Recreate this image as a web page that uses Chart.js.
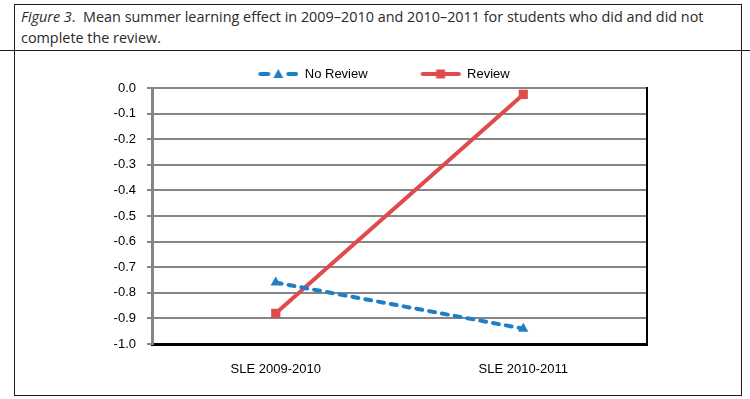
<!DOCTYPE html>
<html>
<head>
<meta charset="utf-8">
<script src="https://cdn.jsdelivr.net/npm/chart.js@4.4.1/dist/chart.umd.min.js"></script>
<style>
  body {
    margin: 0;
    width: 750px;
    height: 399px;
    background: #fff;
    position: relative;
    overflow: hidden;
    font-family: "Open Sans", sans-serif;
  }
  #frame {
    position: absolute;
    left: 14px;
    top: 4px;
    width: 726px;
    height: 390px;
    border: 1px solid #1e1e1e;
  }
  #rule {
    position: absolute;
    left: 0;
    top: 50px;
    width: 750px;
    height: 1px;
    background: #1e1e1e;
  }
  #caption {
    position: absolute;
    left: 21px;
    top: 6px;
    font-size: 14.4px;
    line-height: 21px;
    color: #2a2a2a;
    white-space: nowrap;
  }
  #wrap {
    position: absolute;
    left: 15px;
    top: 51px;
    width: 725px;
    height: 343px;
  }
</style>
</head>
<body>
<div id="frame"></div>
<div id="rule"></div>
<div id="caption">
  <div><i>Figure 3</i>.&nbsp; Mean summer learning effect in 2009–2010 and 2010–2011 for students who did and did not</div>
  <div>complete the review.</div>
</div>
<div id="wrap"><canvas id="chart"></canvas></div>
<script>
const categories = ["SLE 2009-2010", "SLE 2010-2011"];
const seriesNames = ["No Review", "Review"];
const noReviewValues = [-0.76, -0.94];
const reviewValues = [-0.88, -0.025];
const yMin = -1.0;
const yMax = 0.0;
const yStep = 0.1;

const blue = "#1f7fc6";
const red = "#e04a4c";
const tickFont = { family: "Liberation Sans", size: 13 };

// legend samples: line + marker, drawn at the right end of a wider box
const legendIcon = (color, marker) => {
  const c = document.createElement("canvas");
  c.width = 83;
  c.height = 12;
  const ctx = c.getContext("2d");
  ctx.strokeStyle = color;
  ctx.fillStyle = color;
  ctx.lineWidth = 4;
  ctx.lineCap = "round";
  ctx.beginPath();
  if (marker === "triangle") {
    ctx.moveTo(45, 6);
    ctx.lineTo(53, 6);
    ctx.moveTo(73, 6);
    ctx.lineTo(81, 6);
  } else {
    ctx.moveTo(45, 6);
    ctx.lineTo(81, 6);
  }
  ctx.stroke();
  ctx.beginPath();
  if (marker === "triangle") {
    ctx.moveTo(63, 1);
    ctx.lineTo(68, 10);
    ctx.lineTo(58, 10);
    ctx.closePath();
  } else {
    ctx.rect(58.5, 1.5, 9, 9);
  }
  ctx.fill();
  return c;
};

const icons = [legendIcon(blue, "triangle"), legendIcon(red, "rect")];

// push the legend row down a little without moving the plot area
const legendNudge = {
  id: "legendNudge",
  afterLayout: (chart) => {
    chart.legend.top += 2.5;
    chart.legend.bottom += 2.5;
  },
};

const config = {
  type: "line",
  data: {
    labels: categories,
    datasets: [
      {
        label: seriesNames[0],
        data: noReviewValues,
        borderColor: blue,
        backgroundColor: blue,
        borderWidth: 4,
        borderDash: [6, 7],
        borderCapStyle: "round",
        pointStyle: "triangle",
        pointRadius: 6,
        pointBorderWidth: 0,
        pointBackgroundColor: blue,
        tension: 0,
      },
      {
        label: seriesNames[1],
        data: reviewValues,
        borderColor: red,
        backgroundColor: red,
        borderWidth: 4,
        pointStyle: "rect",
        pointRadius: 6.5,
        pointBorderWidth: 0,
        pointBackgroundColor: red,
        tension: 0,
      },
    ],
  },
  options: {
    responsive: true,
    maintainAspectRatio: false,
    animation: false,
    devicePixelRatio: 1,
    layout: {
      padding: { top: 4, left: 0, right: 30, bottom: 0 },
    },
    scales: {
      x: {
        offset: true,
        grid: { display: false, drawTicks: false },
        border: { display: true, color: "#000", width: 3 },
        ticks: { font: tickFont, color: "#000", padding: 18 },
        afterFit: (scale) => {
          scale.height = 50;
        },
      },
      y: {
        min: yMin,
        max: yMax,
        grid: { color: "#868686", lineWidth: 2, tickLength: 5 },
        border: { display: true, color: "#868686", width: 3 },
        ticks: {
          stepSize: yStep,
          font: tickFont,
          color: "#000",
          padding: 11,
          callback: (value) => value.toFixed(1),
        },
        afterFit: (scale) => {
          scale.width = 137;
        },
      },
      yr: {
        position: "right",
        min: 0,
        max: 1,
        grid: { display: false, drawTicks: false },
        border: { display: true, color: "#000", width: 2 },
        ticks: { display: false },
        afterFit: (scale) => {
          scale.width = 63;
        },
      },
    },
    plugins: {
      legend: {
        position: "top",
        labels: {
          usePointStyle: true,
          pointStyleWidth: 83,
          boxHeight: 12,
          padding: 10,
          color: "#000",
          font: tickFont,
          generateLabels: (chart) => {
            const items = Chart.defaults.plugins.legend.labels.generateLabels(chart);
            return items.map((item, i) => ({ ...item, pointStyle: icons[i] }));
          },
        },
      },
      tooltip: { enabled: false },
    },
  },
  plugins: [legendNudge],
};

new Chart(document.getElementById("chart"), config);
</script>
</body>
</html>
